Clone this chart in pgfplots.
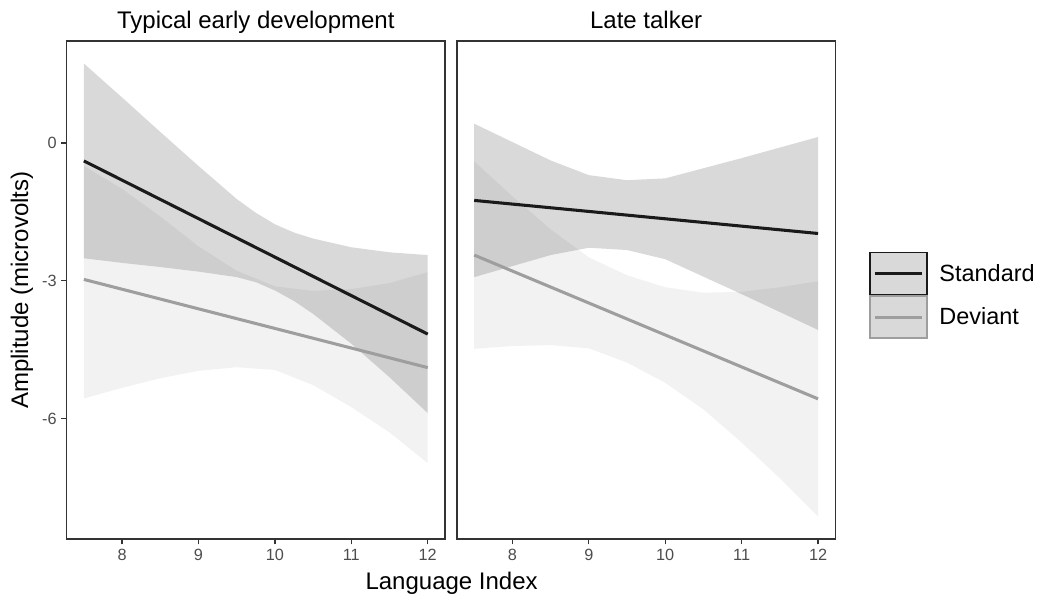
\documentclass[border=0pt]{standalone}
\usepackage{fontspec}
\setmainfont{Liberation Sans}
\usepackage{pgfplots}
\pgfplotsset{compat=1.18}
\definecolor{stdline}{HTML}{1A1A1A}
\definecolor{devline}{HTML}{9E9E9E}
\definecolor{framec}{HTML}{333333}
\definecolor{ticklab}{HTML}{4D4D4D}
\definecolor{keyfill}{HTML}{D9D9D9}
\begin{document}
\begin{tikzpicture}
\useasboundingbox (0pt,0pt) rectangle (779.25pt,447pt);
\pgfplotsset{
  panel/.style={
    scale only axis, width=283.7pt, height=373.5pt,
    xmin=7.275, xmax=12.225, ymin=-8.62, ymax=2.22,
    axis line style={framec, line width=0.9pt},
    xtick={8,9,10,11,12}, xticklabels={8,9,10,11,12},
    tick align=outside, major tick length=4pt,
    every tick/.style={framec, line width=0.9pt},
    tick pos=left,
    tick label style={font=\fontsize{12.2}{14}\selectfont, text=ticklab},
    title style={font=\fontsize{18}{21}\selectfont, at={(axis description cs:0.5,1)}, anchor=base, yshift=3.6pt},
    anchor=south west,
  },
  stdband/.style={fill=black, fill opacity=0.15, draw=none, forget plot},
  devband/.style={fill=black, fill opacity=0.05, draw=none, forget plot},
  stdln/.style={stdline, line width=2.3pt},
  devln/.style={devline, line width=2.3pt},
}
% ---------------- Left panel ----------------
\begin{axis}[panel, at={(50.0pt,42.75pt)},
  title={Typical early development},
  ytick={-6,-3,0}, yticklabels={-6,-3,0},
  ylabel={Amplitude (microvolts)},
  ylabel style={at={(axis description cs:-0.118,0.5)}, anchor=center, font=\fontsize{18}{21}\selectfont},
  xlabel={Language Index},
  xlabel style={at={(axis description cs:1.0177,-0.1024)}, anchor=base, font=\fontsize{18}{21}\selectfont},
]
\addplot[stdband] coordinates {
 (7.5,1.73) (8,0.99) (8.5,0.24) (9,-0.50) (9.5,-1.22) (9.75,-1.52) (10,-1.77) (10.25,-1.95) (10.5,-2.08) (11,-2.27) (11.5,-2.38) (12,-2.44)
 (12,-5.88) (11.5,-5.10) (11,-4.37) (10.5,-3.72) (10.25,-3.44) (10,-3.21) (9.75,-3.03) (9.5,-2.92) (9,-2.80) (8.5,-2.70) (8,-2.61) (7.5,-2.51)
} -- cycle;
\addplot[devband] coordinates {
 (7.5,-0.50) (8,-1.00) (8.5,-1.60) (9,-2.25) (9.5,-2.78) (10,-3.12) (10.5,-3.22) (11,-3.18) (11.5,-3.05) (12,-2.81)
 (12,-6.97) (11.5,-6.30) (11,-5.75) (10.5,-5.27) (10,-4.94) (9.5,-4.88) (9,-4.96) (8.5,-5.12) (8,-5.33) (7.5,-5.56)
} -- cycle;
\addplot[stdln] coordinates {(7.5,-0.39) (12,-4.16)};
\addplot[devln] coordinates {(7.5,-2.97) (12,-4.89)};
\end{axis}
% ---------------- Right panel ----------------
\begin{axis}[panel, at={(342.75pt,42.75pt)},
  title={Late talker},
  ytick=\empty,
  legend style={at={(axis description cs:1.0896,0.489)}, anchor=west, draw=none, fill=none,
    inner sep=0pt, row sep=0pt, column sep=8.8pt,
    nodes={inner sep=0pt, font=\fontsize{17.6}{20}\selectfont}},
  legend cell align=left,
  legend image code/.code={
    \draw[fill=keyfill, line width=1.2pt] (0pt,-15.75pt) rectangle (42.5pt,15.75pt);
    \draw (3.5pt,0pt) -- (39pt,0pt);
  },
]
\addplot[stdband] coordinates {
 (7.5,0.42) (8,0.02) (8.5,-0.38) (9,-0.70) (9.5,-0.81) (10,-0.77) (10.5,-0.55) (11,-0.33) (11.5,-0.10) (12,0.13)
 (12,-4.07) (11.5,-3.68) (11,-3.29) (10.5,-2.91) (10,-2.53) (9.5,-2.33) (9,-2.28) (8.5,-2.44) (8,-2.68) (7.5,-2.92)
} -- cycle;
\addplot[devband] coordinates {
 (7.5,-0.40) (8,-1.16) (8.5,-1.88) (9,-2.49) (9.5,-2.88) (10,-3.14) (10.5,-3.26) (11,-3.24) (11.5,-3.14) (12,-3.01)
 (12,-8.13) (11.5,-7.30) (11,-6.52) (10.5,-5.80) (10,-5.22) (9.5,-4.78) (9,-4.47) (8.5,-4.40) (8,-4.42) (7.5,-4.48)
} -- cycle;
\addplot[stdln] coordinates {(7.5,-1.25) (12,-1.97)};
\addlegendentry{Standard}
\addplot[devln] coordinates {(7.5,-2.44) (12,-5.57)};
\addlegendentry{Deviant}
\end{axis}
\end{tikzpicture}
\end{document}
